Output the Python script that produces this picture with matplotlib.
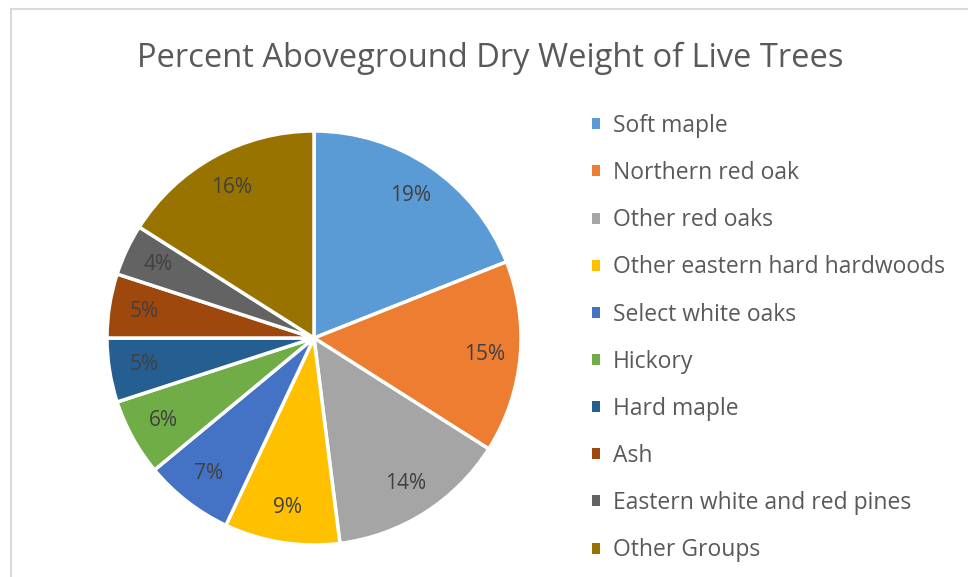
import matplotlib
matplotlib.use("Agg")
import matplotlib.pyplot as plt
from matplotlib.lines import Line2D

labels = ["Soft maple", "Northern red oak", "Other red oaks", "Other eastern hard hardwoods",
          "Select white oaks", "Hickory", "Hard maple", "Ash",
          "Eastern white and red pines", "Other Groups"]
values = [19, 15, 14, 9, 7, 6, 5, 5, 4, 16]
colors = ["#5b9bd5", "#ed7d31", "#a5a5a5", "#ffc000", "#4472c4",
          "#70ad47", "#255e91", "#9e480e", "#636363", "#997300"]

plt.rcParams["font.family"] = ["Open Sans", "DejaVu Sans"]

W, H = 968, 577
fig = plt.figure(figsize=(W / 100, H / 100), dpi=100)

# chart area border (only top and left visible)
fig.add_artist(Line2D([11 / W, 11 / W], [0, 1 - 9 / H], color="#d9d9d9", lw=1.5))
fig.add_artist(Line2D([11 / W, 1], [1 - 9 / H, 1 - 9 / H], color="#d9d9d9", lw=1.5))

cx, cy, r = 314, 338, 207
ax = fig.add_axes([(cx - r) / W, (H - cy - r) / H, 2 * r / W, 2 * r / H])
wedges, texts, autotexts = ax.pie(
    values, colors=colors, startangle=90, counterclock=False,
    autopct=lambda p: f"{p:.0f}%", pctdistance=0.83,
    wedgeprops=dict(edgecolor="white", linewidth=2.5),
    textprops=dict(color="#404040", fontsize=15))
ax.set_xlim(-1, 1)
ax.set_ylim(-1, 1)
ax.set_aspect("equal")
ax.axis("off")

fig.text(490 / W, 1 - 58 / H, "Percent Aboveground Dry Weight of Live Trees",
         ha="center", va="center", fontsize=23.5, color="#595959")

leg = fig.legend(wedges, labels, loc="upper left", bbox_to_anchor=(592 / W, 1 - 114 / H),
                 frameon=False, fontsize=16.5, labelcolor="#595959",
                 handlelength=0.36, handleheight=0.36, handletextpad=0.55,
                 labelspacing=1.01, borderpad=0, borderaxespad=0)
for h in leg.legend_handles:
    h.set_edgecolor("none")

fig.savefig("out.png", dpi=100)
